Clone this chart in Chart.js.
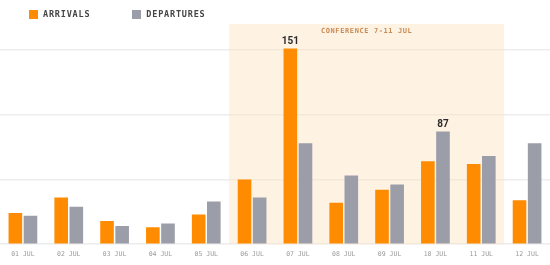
<!DOCTYPE html>
<html lang="en">

<head>
    <meta charset="UTF-8">
    <title>Arrivals and departures</title>
    <script src="https://cdn.jsdelivr.net/npm/chart.js@4.4.1/dist/chart.umd.min.js"></script>
    <style>
        html, body {
            margin: 0;
            padding: 0;
            background: #ffffff;
        }

        .wrap {
            position: relative;
            width: 550px;
            height: 265px;
        }

        .legend {
            position: absolute;
            top: 9px;
            left: 29px;
            display: flex;
            gap: 42px;
            font-family: "DejaVu Sans Mono", monospace;
            font-size: 8.5px;
            font-weight: bold;
            letter-spacing: 0.8px;
            color: #454545;
            z-index: 2;
        }

        .legend span {
            display: flex;
            align-items: center;
        }

        .legend i {
            display: inline-block;
            width: 9px;
            height: 9px;
            margin-right: 5px;
        }
    </style>
</head>

<body>
    <div class="wrap">
        <div class="legend">
            <span><i style="background:#ff8c00"></i>ARRIVALS</span>
            <span><i style="background:#9b9ea8"></i>DEPARTURES</span>
        </div>
        <canvas id="chart" width="550" height="265"></canvas>
    </div>

    <script>
        // data
        const days = ['01 JUL', '02 JUL', '03 JUL', '04 JUL', '05 JUL', '06 JUL',
            '07 JUL', '08 JUL', '09 JUL', '10 JUL', '11 JUL', '12 JUL'];
        const arrivals = [24, 36, 18, 13, 23, 50, 151, 32, 42, 64, 62, 34];
        const departures = [22, 29, 14, 16, 33, 36, 78, 53, 46, 87, 68, 78];
        const yTicks = [0, 50, 100, 150];
        const conference = { from: 5, to: 10, label: 'CONFERENCE 7-11 JUL' };

        // shaded conference band, drawn under the bars
        const bandPlugin = {
            id: 'band',
            beforeDatasetsDraw(chart) {
                const { ctx, chartArea, scales } = chart;
                const x = scales.x;
                const half = (x.getPixelForValue(1) - x.getPixelForValue(0)) / 2;
                const left = x.getPixelForValue(conference.from) - half;
                const right = x.getPixelForValue(conference.to) + half;
                ctx.save();
                ctx.fillStyle = 'rgba(253, 226, 190, 0.45)';
                ctx.fillRect(left, chartArea.top, right - left, chartArea.bottom - chartArea.top);
                ctx.font = 'bold 7px "DejaVu Sans Mono", monospace';
                ctx.letterSpacing = '0.6px';
                ctx.fillStyle = '#c98b55';
                ctx.textAlign = 'center';
                ctx.textBaseline = 'middle';
                ctx.fillText(conference.label, (left + right) / 2, chartArea.top + 7);
                ctx.restore();
            }
        };

        // value label above the peak bar of each series
        const peakPlugin = {
            id: 'peak',
            afterDatasetsDraw(chart) {
                const { ctx } = chart;
                ctx.save();
                ctx.font = 'bold 10px "Liberation Sans Narrow", Roboto, sans-serif';
                ctx.fillStyle = '#2b2b2b';
                ctx.textAlign = 'center';
                ctx.textBaseline = 'bottom';
                chart.data.datasets.forEach((ds, i) => {
                    const max = Math.max(...ds.data);
                    const idx = ds.data.indexOf(max);
                    const bar = chart.getDatasetMeta(i).data[idx];
                    ctx.fillText(String(max), bar.x, bar.y - 2);
                });
                ctx.restore();
            }
        };

        new Chart(document.getElementById('chart'), {
            type: 'bar',
            data: {
                labels: days,
                datasets: [{
                    label: 'ARRIVALS',
                    data: arrivals,
                    backgroundColor: '#ff8c00',
                    categoryPercentage: 0.66,
                    barPercentage: 0.9
                }, {
                    label: 'DEPARTURES',
                    data: departures,
                    backgroundColor: '#9b9ea8',
                    categoryPercentage: 0.66,
                    barPercentage: 0.9
                }]
            },
            options: {
                responsive: false,
                animation: false,
                layout: {
                    padding: { top: 24, bottom: 1, left: 0, right: 0 }
                },
                plugins: {
                    legend: { display: false },
                    tooltip: { enabled: false }
                },
                scales: {
                    x: {
                        grid: { display: false, drawTicks: false },
                        border: { display: false },
                        ticks: {
                            color: '#9a9a9a',
                            padding: 6,
                            maxRotation: 0,
                            font: { family: '"DejaVu Sans Mono", monospace', size: 6.5 }
                        }
                    },
                    y: {
                        min: 0,
                        max: 170,
                        afterBuildTicks(axis) {
                            axis.ticks = yTicks.map(v => ({ value: v }));
                        },
                        border: { display: false },
                        grid: {
                            drawTicks: false,
                            lineWidth: 1.5,
                            color: ctx => ctx.tick.value === 0 ? '#ececec' : '#ededed'
                        },
                        ticks: { display: false }
                    }
                }
            },
            plugins: [bandPlugin, peakPlugin]
        });
    </script>
</body>

</html>
